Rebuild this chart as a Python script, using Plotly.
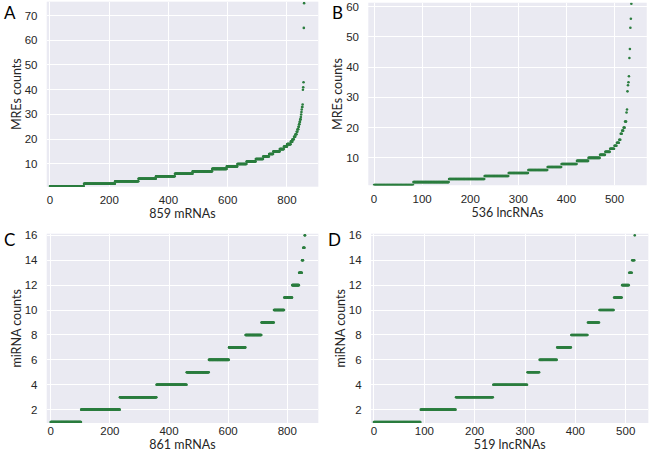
import numpy as np
import plotly.graph_objects as go

# ---- data (run lengths of sorted counts) ----
a_values = [1, 2, 3, 4, 5, 6, 7, 8, 9, 10, 11, 12, 13, 14, 15, 16, 17, 18,
            19, 20, 21, 22, 23, 24, 25, 26, 27, 28, 29, 30, 31, 32, 33, 34,
            40, 41, 43, 65, 75]
a_counts = [115, 105, 79, 59, 64, 60, 66, 49, 36, 31, 31, 25, 20, 14, 22, 14, 11, 12,
            6, 5, 5, 4, 3, 3, 2, 2, 2, 2, 1, 1, 1, 1, 2, 1,
            1, 1, 1, 1, 1]

b_values = [1, 2, 3, 4, 5, 6, 7, 8, 9, 10, 11, 12, 13, 14, 15, 16,
            18, 19, 20, 22, 25, 26, 32, 34, 35, 37, 43, 46, 53, 56, 61]
b_counts = [82, 74, 74, 50, 41, 40, 29, 32, 24, 24, 11, 10, 9, 5, 5, 3,
            3, 3, 3, 3, 1, 1, 1, 1, 1, 1, 1, 1, 1, 1, 1]

c_values = [1, 2, 3, 4, 5, 6, 7, 8, 9, 10, 11, 12, 13, 14, 15, 16]
c_counts = [103, 131, 124, 102, 75, 68, 56, 54, 42, 35, 27, 23, 10, 4, 5, 2]

d_values = [1, 2, 3, 4, 5, 6, 7, 8, 9, 10, 11, 12, 13, 14, 16]
d_counts = [93, 70, 74, 68, 24, 35, 28, 33, 23, 29, 16, 14, 6, 5, 1]

x_titles = ["859 mRNAs", "536 lncRNAs", "861 mRNAs", "519 lncRNAs"]
y_titles = ["MREs counts", "MREs counts", "miRNA counts", "miRNA counts"]
letters = ["A", "B", "C", "D"]
x_ticks = [[0, 200, 400, 600, 800], [0, 100, 200, 300, 400, 500],
           [0, 200, 400, 600, 800], [0, 100, 200, 300, 400, 500]]
y_ticks = [[10, 20, 30, 40, 50, 60, 70], [10, 20, 30, 40, 50, 60],
           [2, 4, 6, 8, 10, 12, 14, 16], [2, 4, 6, 8, 10, 12, 14, 16]]

# ---- layout geometry ----
x_domains = [[0.072, 0.4905], [0.5675, 0.9965], [0.072, 0.4905], [0.5716, 0.999]]
y_domains = [[0.5888, 0.9963], [0.592, 0.994], [0.0683, 0.4852], [0.0683, 0.4852]]
x_ranges = [[-11, 906], [-12, 567], [-13.6, 905], [-6, 545]]
y_ranges = [[0.8, 75.6], [0.96, 61.3], [0.93, 16.13], [0.93, 16.13]]
x_ticklens = [3, 3, 0, 0]
letter_pos = [(0.003, 1.0), (0.508, 1.0), (0.003, 0.5), (0.503, 0.5)]

GREEN = "#2b7d3f"
BG = "#EAEAF2"
TICKFONT = dict(family="Liberation Sans, Arial, sans-serif", size=11.5, color="#262626")
TITLEFONT = dict(family="Lato, Liberation Sans, sans-serif", size=12.5, color="#262626")

fig = go.Figure()
datasets = [(a_values, a_counts), (b_values, b_counts), (c_values, c_counts), (d_values, d_counts)]

layout = dict(
    width=649, height=454,
    margin=dict(l=0, r=0, t=0, b=0, autoexpand=False),
    paper_bgcolor="white",
    plot_bgcolor=BG,
    showlegend=False,
)

for i, (vals, cnts) in enumerate(datasets):
    y = np.repeat(np.array(vals), np.array(cnts))
    x = np.arange(len(y))
    suffix = "" if i == 0 else str(i + 1)
    fig.add_trace(go.Scatter(
        x=x, y=y, mode="markers",
        marker=dict(size=2.6, color=GREEN, line=dict(width=0), symbol="circle"),
        xaxis="x" + suffix, yaxis="y" + suffix,
        cliponaxis=True, hoverinfo="skip",
    ))
    layout["xaxis" + suffix] = dict(
        domain=x_domains[i], range=x_ranges[i], anchor="y" + suffix,
        tickvals=x_ticks[i], showgrid=True, gridcolor="white", gridwidth=1,
        zeroline=False, showline=False,
        ticks="outside" if x_ticklens[i] else "", ticklen=max(x_ticklens[i], 1),
        tickcolor="rgba(0,0,0,0)", tickfont=TICKFONT, automargin=False,
        title=dict(text=x_titles[i], font=TITLEFONT, standoff=3),
    )
    layout["yaxis" + suffix] = dict(
        domain=y_domains[i], range=y_ranges[i], anchor="x" + suffix,
        tickvals=y_ticks[i], showgrid=True, gridcolor="white", gridwidth=1,
        zeroline=False, showline=False, ticks="outside", ticklen=6,
        tickcolor="rgba(0,0,0,0)", tickfont=TICKFONT, automargin=False,
        title=dict(text=y_titles[i], font=TITLEFONT, standoff=0),
    )

layout["annotations"] = [
    dict(text=letters[i], x=letter_pos[i][0], y=letter_pos[i][1], xref="paper", yref="paper",
         xanchor="left", yanchor="top", showarrow=False,
         font=dict(family="Lato, Liberation Sans, sans-serif", size=17, color="black"))
    for i in range(4)
]

fig.update_layout(**layout)
fig.write_html("out.html",
               config={"displayModeBar": False, "staticPlot": True},
               post_script="document.body.style.margin='0';document.body.style.overflow='hidden';")
